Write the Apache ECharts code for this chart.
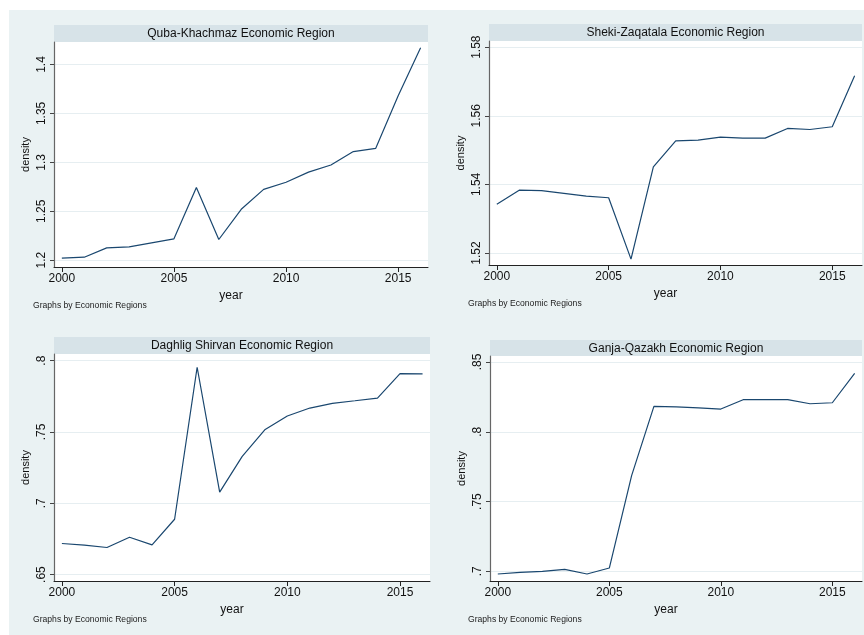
<!DOCTYPE html>
<html><head><meta charset="utf-8">
<script src="https://cdn.jsdelivr.net/npm/echarts@6/dist/echarts.min.js"></script>
<style>html,body{margin:0;padding:0;background:#fff}#c{width:864px;height:635px}</style>
</head><body><div id="c"></div>
<script>
// ---- data ----
const years = [2000,2001,2002,2003,2004,2005,2006,2007,2008,2009,2010,2011,2012,2013,2014,2015,2016];
const regionNames = ['Quba-Khachmaz Economic Region','Sheki-Zaqatala Economic Region','Daghlig Shirvan Economic Region','Ganja-Qazakh Economic Region'];
const qubaKhachmaz   = [1.202,1.203,1.2126,1.2136,1.2177,1.2218,1.2742,1.2211,1.252,1.2724,1.2796,1.290,1.2973,1.311,1.3143,1.368,1.417];
const shekiZaqatala  = [1.5342,1.5383,1.5382,1.5374,1.5366,1.5361,1.5182,1.5451,1.5527,1.5529,1.5538,1.5535,1.5535,1.5563,1.5560,1.5568,1.5717];
const daghligShirvan = [0.6718,0.6706,0.669,0.6762,0.6708,0.6888,0.7954,0.7078,0.7329,0.7515,0.7612,0.7668,0.7701,0.7719,0.7738,0.7909,0.7907];
const ganjaQazakh    = [0.6981,0.6993,0.700,0.7014,0.6981,0.7024,0.7686,0.8182,0.8178,0.8171,0.8163,0.823,0.823,0.823,0.8201,0.8208,0.8418];
const xTicks = [2000,2005,2010,2015];
const yTicksQuba = [1.2,1.25,1.3,1.35,1.4];
const yTicksSheki = [1.52,1.54,1.56,1.58];
const yTicksDaghlig = [0.65,0.7,0.75,0.8];
const yTicksGanja = [0.7,0.75,0.8,0.85];
const xName = 'year', yName = 'density', noteText = 'Graphs by Economic Regions';

// ---- layout ----
const seriesList = [qubaKhachmaz, shekiZaqatala, daghligShirvan, ganjaQazakh];
const yTickList = [yTicksQuba, yTicksSheki, yTicksDaghlig, yTicksGanja];
const panels = [
  {l:54, t:42, r:428, b:267, ymin:1.193, ymax:1.423, band:[25,42], note:[33,306]},
  {l:489, t:41, r:862, b:265, ymin:1.5165, ymax:1.5818, band:[24,41], note:[468,304]},
  {l:54, t:354, r:430, b:581, ymin:0.6455, ymax:0.8047, band:[337,354], note:[33,620]},
  {l:490, t:356, r:862, b:581, ymin:0.6931, ymax:0.8543, band:[340,356], note:[468,620]}
];
const W = 864, H = 635;
const FONT = 'Liberation Sans, Arial, sans-serif';
const fmt = v => { let s = String(+(+v).toFixed(4)); if (s.startsWith('0.')) s = s.slice(1); return s; };

const grid = [], xAxis = [], yAxis = [], series = [], graphic = [];
graphic.push({type:'rect', z:-100, shape:{x:9, y:10, width:W-9, height:H-10}, style:{fill:'#eaf2f3'}, silent:true});
panels.forEach((p, i) => {
  grid.push({left:p.l, top:p.t, width:p.r-p.l, height:p.b-p.t, show:true, backgroundColor:'#ffffff', borderWidth:0});
  xAxis.push({
    type:'value', gridIndex:i, min:1999.65, max:2016.33,
    name:xName, nameLocation:'middle', nameGap:23,
    nameTextStyle:{fontFamily:FONT, fontSize:12, color:'#111', padding:[0,20,0,0]},
    axisLine:{show:true, onZero:false, lineStyle:{color:'#222', width:1}},
    axisTick:{show:true, length:5, customValues:xTicks, lineStyle:{color:'#222'}},
    axisLabel:{customValues:xTicks, margin:6, fontFamily:FONT, fontSize:12, color:'#111', formatter:v=>String(v)},
    splitLine:{show:false}
  });
  yAxis.push({
    type:'value', gridIndex:i, min:p.ymin, max:p.ymax,
    name:yName, nameLocation:'middle', nameGap:23,
    nameTextStyle:{fontFamily:FONT, fontSize:11, color:'#111'},
    axisLine:{show:true, onZero:false, lineStyle:{color:'#666', width:1.2}},
    axisTick:{show:true, length:4, customValues:yTickList[i], lineStyle:{color:'#444'}},
    axisLabel:{customValues:yTickList[i], rotate:90, margin:6, fontFamily:FONT, fontSize:12, color:'#111', formatter:fmt},
    splitLine:{show:true, lineStyle:{color:'#e6eef1', width:1.2}}
  });
  series.push({
    type:'line', xAxisIndex:i, yAxisIndex:i, showSymbol:false, symbol:'none',
    data: years.map((y, k) => [y, seriesList[i][k]]),
    lineStyle:{color:'#1a476f', width:1.2}
  });
  graphic.push({type:'rect', shape:{x:p.l, y:p.band[0], width:p.r-p.l, height:p.band[1]-p.band[0]}, style:{fill:'#d7e3e8'}, silent:true});
  graphic.push({type:'text', x:(p.l+p.r)/2, y:(p.band[0]+p.band[1])/2+0.5, style:{text:regionNames[i], fontFamily:FONT, fontSize:12, fill:'#111', align:'center', verticalAlign:'middle'}, silent:true});
  graphic.push({type:'text', x:p.note[0], y:p.note[1], style:{text:noteText, fontFamily:FONT, fontSize:8.6, fill:'#222', align:'left', verticalAlign:'middle'}, silent:true});
});

const chart = echarts.init(document.getElementById('c'), null, {renderer:'canvas'});
chart.setOption({animation:false, backgroundColor:'#ffffff', grid, xAxis, yAxis, series, graphic});
</script></body></html>
